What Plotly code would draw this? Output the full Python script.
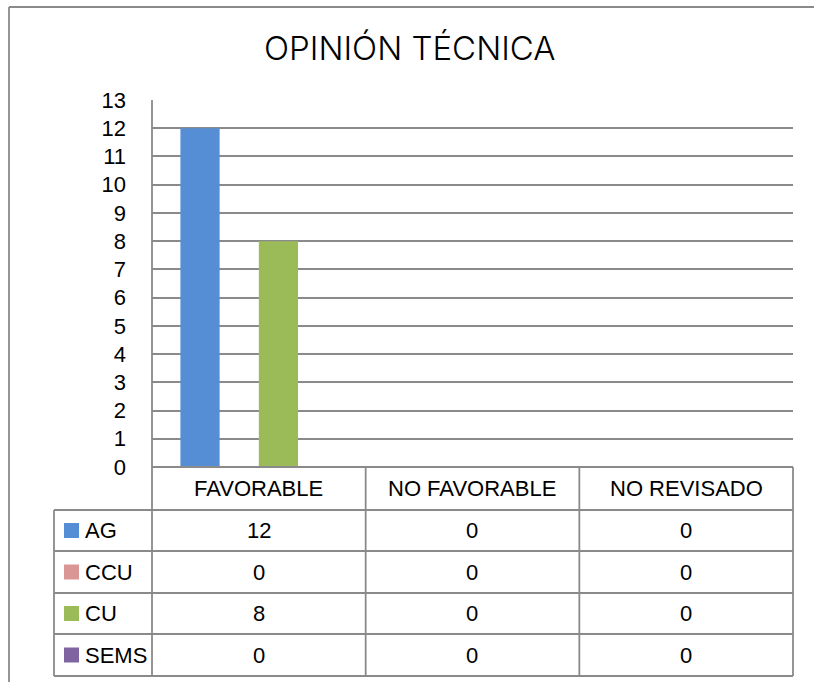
import plotly.graph_objects as go

W, H = 814, 682

categories = ["FAVORABLE", "NO FAVORABLE", "NO REVISADO"]
series_names = ["AG", "CCU", "CU", "SEMS"]
ag = [12, 0, 0]
ccu = [0, 0, 0]
cu = [8, 0, 0]
sems = [0, 0, 0]
series_values = [ag, ccu, cu, sems]
colors = ["#558ED5", "#D99694", "#9BBB59", "#8064A2"]
y_ticks = list(range(0, 14))

FONT = "Liberation Sans, Arial, sans-serif"
TFONT = "Inter, Lato, sans-serif"
LINE = "#8a8a8a"
LW = 1.8

# layout geometry (pixels)
PL, PR, PT, PB = 152, 793, 100, 467
TL = 54
row_lines = [510, 551, 593, 634, 676]
col_lines = [PL + (PR - PL) * i / len(categories) for i in range(len(categories) + 1)]


def fx(px):
    return (px - PL) / (PR - PL)


def fy(py):
    return (PB - py) / (PB - PT)


fig = go.Figure()
for name, vals, col in zip(series_names, series_values, colors):
    fig.add_trace(go.Bar(x=categories, y=vals, name=name, marker=dict(color=col, line=dict(width=0)),
                         showlegend=False))

shapes = []
annotations = []


def hline(x0, x1, y):
    shapes.append(dict(type="line", xref="paper", yref="paper", x0=fx(x0), x1=fx(x1), y0=fy(y), y1=fy(y),
                       line=dict(color=LINE, width=LW)))


def vline(x, y0, y1):
    shapes.append(dict(type="line", xref="paper", yref="paper", x0=fx(x), x1=fx(x), y0=fy(y0), y1=fy(y1),
                       line=dict(color=LINE, width=LW)))


# outer chart border (top and left edges visible)
hline(9, W + 40, 7)
vline(9, 7, H + 40)

# table grid
hline(PL, PR, PB)
for y in row_lines:
    hline(TL, PR, y)
vline(PL, PT, row_lines[-1])
for x in col_lines[1:]:
    vline(x, PB, row_lines[-1])
vline(TL, row_lines[0], row_lines[-1])

TXT = dict(family=FONT, size=22, color="#000")

# header texts
for i, cat in enumerate(categories):
    cx = (col_lines[i] + col_lines[i + 1]) / 2
    annotations.append(dict(xref="paper", yref="paper", x=fx(cx), y=fy((PB + row_lines[0]) / 2), text=cat,
                            showarrow=False, xanchor="center", yanchor="middle", font=TXT))

# rows
for r, (name, vals, col) in enumerate(zip(series_names, series_values, colors)):
    cy = (row_lines[r] + row_lines[r + 1]) / 2
    shapes.append(dict(type="rect", xref="paper", yref="paper", x0=fx(64), x1=fx(79), y0=fy(cy - 7.5),
                       y1=fy(cy + 7.5), fillcolor=col, line=dict(width=0)))
    annotations.append(dict(xref="paper", yref="paper", x=fx(83), y=fy(cy), text=name, showarrow=False,
                            xanchor="left", yanchor="middle", font=TXT))
    for i, v in enumerate(vals):
        cx = (col_lines[i] + col_lines[i + 1]) / 2
        annotations.append(dict(xref="paper", yref="paper", x=fx(cx), y=fy(cy), text=str(v), showarrow=False,
                                xanchor="center", yanchor="middle", font=TXT))

# title
annotations.append(dict(xref="paper", yref="paper", x=fx(410), y=fy(48), text="OPINIÓN TÉCNICA", showarrow=False,
                        xanchor="center", yanchor="middle",
                        font=dict(family=TFONT, size=33, color="#000", weight=300)))

fig.update_layout(
    width=W, height=H,
    margin=dict(l=PL, r=W - PR, t=PT, b=H - PB, pad=0, autoexpand=False),
    paper_bgcolor="white", plot_bgcolor="white",
    barmode="group", bargap=0.266, bargroupgap=0,
    shapes=shapes, annotations=annotations,
    xaxis=dict(showticklabels=False, showgrid=False, zeroline=False, showline=False, ticks=""),
    yaxis=dict(range=[0, 13], tickvals=y_ticks, ticktext=[str(t) for t in y_ticks], showgrid=True,
               gridcolor=LINE, gridwidth=LW, zeroline=False, showline=False, ticks="",
               ticklabelstandoff=25, tickfont=TXT),
    font=dict(family=FONT),
)

fig.write_html("out.html", config={"displayModeBar": False},
               post_script="document.body.style.margin='0';document.body.style.overflow='hidden';")
